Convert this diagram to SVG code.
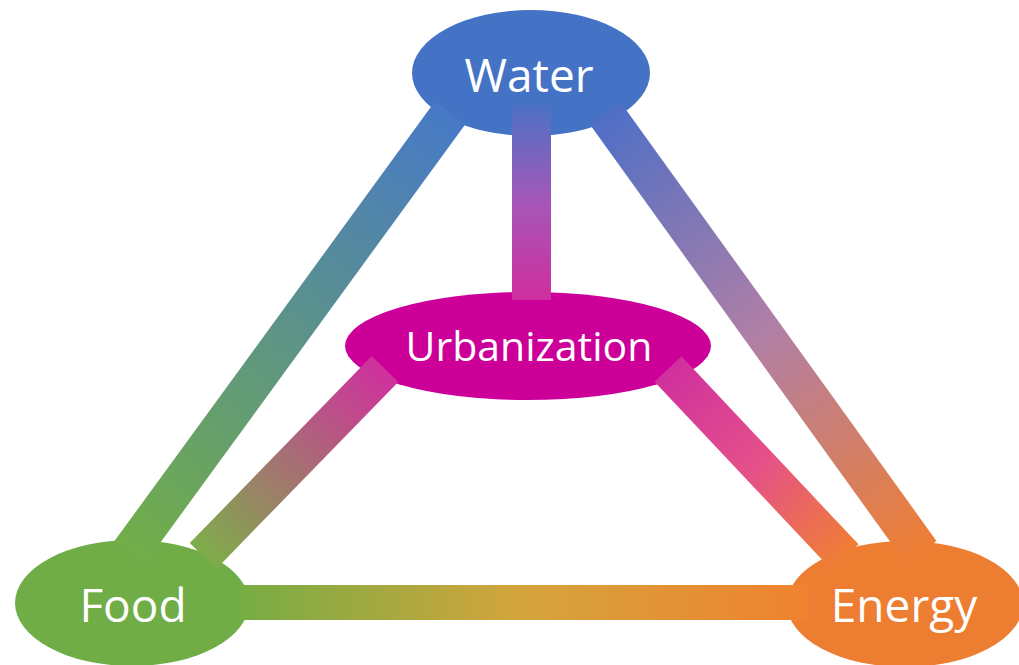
<svg xmlns="http://www.w3.org/2000/svg" width="1019" height="665" viewBox="0 0 1019 665">
  <defs>
    <style>
      .lbl { font-family: "Open Sans", "Noto Sans", sans-serif; fill: #ffffff; text-anchor: middle; }
      .big { font-size: 46px; }
      .mid { font-size: 41px; }
      .bar { fill: none; stroke-linecap: butt; }
    </style>
    <linearGradient id="gWF" gradientUnits="userSpaceOnUse" x1="450" y1="113" x2="130" y2="552">
      <stop offset="0" stop-color="#4779C7"/>
      <stop offset="1" stop-color="#72AE48"/>
    </linearGradient>
    <linearGradient id="gWE" gradientUnits="userSpaceOnUse" x1="605" y1="113" x2="921" y2="552">
      <stop offset="0" stop-color="#4E6FC6"/>
      <stop offset="0.5" stop-color="#B07FA6"/>
      <stop offset="1" stop-color="#EE7E34"/>
    </linearGradient>
    <linearGradient id="gWU" gradientUnits="userSpaceOnUse" x1="0" y1="103" x2="0" y2="300">
      <stop offset="0" stop-color="#4A72C4"/>
      <stop offset="0.5" stop-color="#A457B8"/>
      <stop offset="1" stop-color="#D02E9E"/>
    </linearGradient>
    <linearGradient id="gUF" gradientUnits="userSpaceOnUse" x1="385" y1="369" x2="203" y2="556">
      <stop offset="0" stop-color="#D0309E"/>
      <stop offset="1" stop-color="#7EAD4A"/>
    </linearGradient>
    <linearGradient id="gUE" gradientUnits="userSpaceOnUse" x1="668" y1="369" x2="845" y2="557">
      <stop offset="0" stop-color="#D0309E"/>
      <stop offset="0.5" stop-color="#E5508A"/>
      <stop offset="1" stop-color="#EF7E34"/>
    </linearGradient>
    <linearGradient id="gFE" gradientUnits="userSpaceOnUse" x1="235" y1="0" x2="808" y2="0">
      <stop offset="0" stop-color="#74AD44"/>
      <stop offset="0.5" stop-color="#D4A43C"/>
      <stop offset="1" stop-color="#F08230"/>
    </linearGradient>
  </defs>

  <g id="node-water">
    <ellipse cx="531" cy="73" rx="119" ry="63" fill="#4472C4"/>
  </g>
  <g id="node-urbanization">
    <ellipse cx="528" cy="346" rx="183" ry="54" fill="#CC0099"/>
  </g>
  <g id="node-food">
    <ellipse cx="132" cy="603" rx="117" ry="63" fill="#70AD47"/>
  </g>
  <g id="node-energy">
    <ellipse cx="905" cy="604" rx="118" ry="63" fill="#ED7D31"/>
  </g>

  <g id="connectors">
    <line class="bar" x1="450" y1="113" x2="130" y2="552" stroke="url(#gWF)" stroke-width="38"/>
    <line class="bar" x1="605" y1="113" x2="921" y2="552" stroke="url(#gWE)" stroke-width="38"/>
    <line class="bar" x1="531.5" y1="103" x2="531.5" y2="300" stroke="url(#gWU)" stroke-width="39"/>
    <line class="bar" x1="385" y1="369" x2="203" y2="556" stroke="url(#gUF)" stroke-width="37"/>
    <line class="bar" x1="668" y1="369" x2="845" y2="557" stroke="url(#gUE)" stroke-width="37"/>
    <line class="bar" x1="235" y1="602.5" x2="808" y2="602.5" stroke="url(#gFE)" stroke-width="35"/>
  </g>

  <g id="labels">
    <text class="lbl big" x="529" y="92">Water</text>
    <text class="lbl mid" x="529" y="361">Urbanization</text>
    <text class="lbl big" x="133" y="622">Food</text>
    <text class="lbl big" x="904" y="622">Energy</text>
  </g>
</svg>
